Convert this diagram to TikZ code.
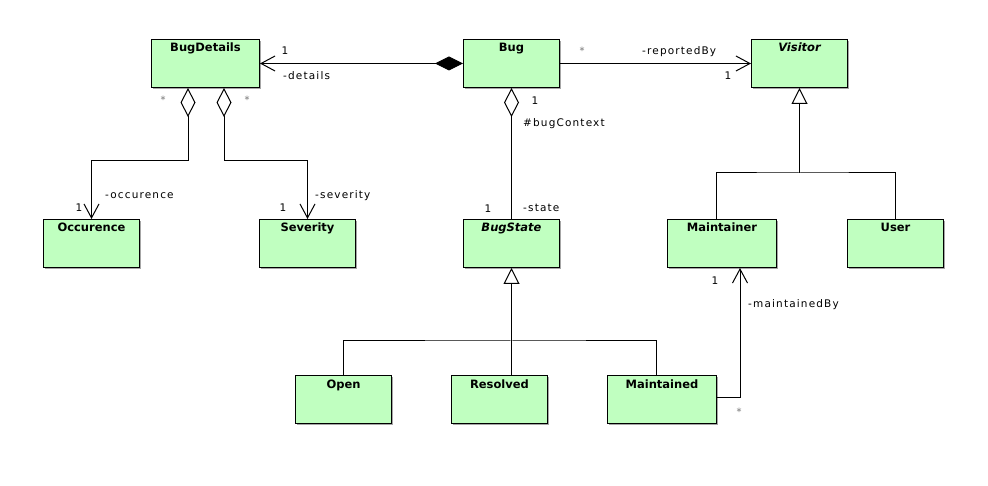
\documentclass[tikz,border=0pt]{standalone}
\usepackage{fontspec}
\setmainfont{DejaVu Sans}
\newfontfamily\labfont[LetterSpace=11]{DejaVu Sans}
\usetikzlibrary{arrows.meta,calc}
\definecolor{clsfill}{HTML}{C0FFC0}
\begin{document}
\begin{tikzpicture}[x=1pt,y=-1pt,
 cls/.style={draw=black, line width=1pt, fill=clsfill, anchor=north west, minimum height=48pt, minimum width=96pt, inner sep=0pt,
   preaction={fill=black!35, transform canvas={shift={(1.3pt,-1.3pt)}}}},
 ttl/.style={anchor=base, font=\fontsize{11.5}{13}\selectfont\bfseries, inner sep=0pt},
 ittl/.style={ttl, font=\fontsize{11.5}{13}\selectfont\bfseries\itshape},
 lab/.style={font=\fontsize{10.5}{12}\labfont, inner sep=0pt},
 lableft/.style={lab, anchor=west},
 star/.style={font=\fontsize{10}{11}\selectfont, text=black!55, inner sep=0pt},
 conn/.style={line width=1pt},
 nav/.style={-{Straight Barb[length=14pt,width=15pt]}},
 gen/.style={-{Triangle[open,length=16pt,width=16pt,fill=white]}},
]
\useasboundingbox (0,0) rectangle (988,486);
\fill[white] (0,0) rectangle (988,486);

% classes
\node[cls, minimum width=108pt] (bd) at (151,39) {};
\node[cls] (bug) at (463,39) {};
\node[cls] (vis) at (751,39) {};
\node[cls] (occ) at (43,219) {};
\node[cls] (sev) at (259,219) {};
\node[cls] (bs) at (463,219) {};
\node[cls, minimum width=109pt] (mtr) at (667,219) {};
\node[cls] (usr) at (847,219) {};
\node[cls] (opn) at (295,375) {};
\node[cls] (res) at (451,375) {};
\node[cls, minimum width=109pt] (mtd) at (607,375) {};

% titles
\node[ttl] (bdT) at ($(bd.north)+(0,13)$) {BugDetails};
\node[ttl] (bugT) at ($(bug.north)+(0,13)$) {Bug};
\node[ittl] (visT) at ($(vis.north)+(0,13)$) {Visitor};
\node[ttl] (occT) at ($(occ.north)+(0,13)$) {Occurence};
\node[ttl] (sevT) at ($(sev.north)+(0,13)$) {Severity};
\node[ittl] (bsT) at ($(bs.north)+(0,13)$) {BugState};
\node[ttl] (mtrT) at ($(mtr.north)+(0,13)$) {Maintainer};
\node[ttl] (usrT) at ($(usr.north)+(0,13)$) {User};
\node[ttl] (opnT) at ($(opn.north)+(0,13)$) {Open};
\node[ttl] (resT) at ($(res.north)+(0,13)$) {Resolved};
\node[ttl] (mtdT) at ($(mtd.north)+(0,13)$) {Maintained};

% Bug -- BugDetails (composition)
\draw[conn, {Diamond[length=28pt,width=14pt]}-{Straight Barb[length=14pt,width=15pt]}] (bug.west) -- (bd.east);
\node[lab] (l1) at (285,51) {1};
\node[lableft] (l2) at (283,76) {-details};

% Bug -> Visitor
\draw[conn, nav] (bug.east) -- (vis.west);
\node[star] (l3) at (582,51) {*};
\node[lableft] (l4) at (642,52) {-reportedBy};
\node[lab] (l5) at (728,76) {1};

% BugDetails aggregations
\draw[conn, {Diamond[open,length=29pt,width=15pt]}-{Straight Barb[length=14pt,width=15pt]}]
  ([xshift=37pt]bd.south west) -- ++(0,73) -| (occ.north);
\draw[conn, {Diamond[open,length=29pt,width=15pt]}-{Straight Barb[length=14pt,width=15pt]}]
  ([xshift=73pt]bd.south west) -- ++(0,73) -| (sev.north);
\node[star] (l6) at (163,100) {*};
\node[star] (l7) at (247,100) {*};
\node[lableft] (l8) at (105,196) {-occurence};
\node[lab] (l9) at (79,208) {1};
\node[lableft] (l10) at (315,196) {-severity};
\node[lab] (l11) at (283,208) {1};

% Bug -- BugState aggregation
\draw[conn, {Diamond[open,length=29pt,width=15pt]}-] (bug.south) -- (bs.north);
\node[lab] (l12) at (535,101) {1};
\node[lableft] (l13) at (523,124) {\#bugContext};
\node[lab] (l14) at (488,209) {1};
\node[lableft] (l15) at (523,208) {-state};

% Visitor generalization
\coordinate (vj) at ($(vis.south)+(0,85)$);
\draw[conn] ([xshift=49pt]mtr.north west) |- (vj) -| (usr.north);
\draw[conn, gen] (vj) -- (vis.south);

% BugState generalization
\coordinate (bj) at ($(bs.south)+(0,73)$);
\draw[conn] (opn.north) |- (bj) -| ([xshift=49pt]mtd.north west);
\draw[conn, gen] (bs.south |- res.north) -- (bs.south);

% Maintained -> Maintainer
\draw[conn, nav] ([yshift=2pt]mtd.east) -| ([xshift=73pt]mtr.south west);
\node[lab] (l16) at (715,281) {1};
\node[lableft] (l17) at (748,305) {-maintainedBy};
\node[star] (l18) at (739,412) {*};
\end{tikzpicture}
\end{document}
